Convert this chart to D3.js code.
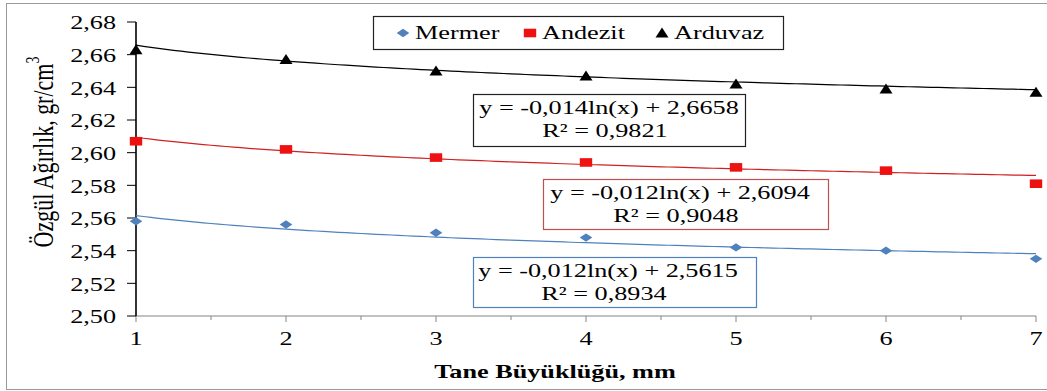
<!DOCTYPE html>
<html>
<head>
<meta charset="utf-8">
<script src="https://cdn.jsdelivr.net/npm/d3@7"></script>
<style>
  html, body { margin: 0; padding: 0; background: #fff; }
  svg { display: block; }
</style>
</head>
<body>
<svg id="chart" width="1047" height="391" font-family="'Liberation Serif', 'DejaVu Serif', serif"></svg>
<script>
// Grain size (mm) and specific gravity of three stone types
const sizes = [1, 2, 3, 4, 5, 6, 7];
const mermer  = [2.558, 2.556, 2.551, 2.548, 2.542, 2.540, 2.535];
const andezit = [2.607, 2.602, 2.597, 2.594, 2.591, 2.589, 2.581];
const arduvaz = [2.663, 2.657, 2.650, 2.647, 2.642, 2.639, 2.637];

// Logarithmic trend lines: y = a*ln(x) + b
const trendA = [-0.012, -0.012, -0.014];
const trendB = [2.5615, 2.6094, 2.6658];
const trendR2 = ["0,8934", "0,9048", "0,9821"];
const trendEq = ["y = -0,012ln(x) + 2,5615", "y = -0,012ln(x) + 2,6094", "y = -0,014ln(x) + 2,6658"];

const seriesNames = ["Mermer", "Andezit", "Arduvaz"];
const yTicks = [2.50, 2.52, 2.54, 2.56, 2.58, 2.60, 2.62, 2.64, 2.66, 2.68];
const xTicks = [1, 2, 3, 4, 5, 6, 7];

const series = [
  { name: seriesNames[0], values: mermer,  marker: "diamond",  fill: "#4F81BD", line: "#4F81BD", box: "#4F81BD" },
  { name: seriesNames[1], values: andezit, marker: "square",   fill: "#EE1111", line: "#D02020", box: "#C0504D" },
  { name: seriesNames[2], values: arduvaz, marker: "triangle", fill: "#000000", line: "#000000", box: "#222222" }
];

const FONT = "'Liberation Serif', 'DejaVu Serif', serif";
// Text is drawn horizontally widened
const SX = 1.38;
const svg = d3.select("#chart");

const x = d3.scaleLinear().domain([1, 7]).range([136, 1036]);
const y = d3.scaleLinear().domain([2.50, 2.68]).range([316, 22]);

function stretchedText(g, px, py, str, opts = {}) {
  return g.append("text")
    .attr("transform", `translate(${px},${py}) scale(${SX},1)`)
    .attr("text-anchor", opts.anchor || "middle")
    .attr("dominant-baseline", "central")
    .attr("font-family", FONT)
    .attr("font-size", opts.size || 19)
    .attr("font-weight", opts.weight || "normal")
    .attr("fill", "#000")
    .text(str);
}

// Outer chart frame
svg.append("rect")
  .attr("x", 6.5).attr("y", 3.5).attr("width", 1100).attr("height", 386)
  .attr("fill", "#fff").attr("stroke", "#9a9a9a").attr("stroke-width", 1);

// X axis
const xAxis = svg.append("g").attr("transform", `translate(0,${y(2.50)})`);
xAxis.append("line")
  .attr("x1", x(1)).attr("x2", x(7)).attr("y1", 0).attr("y2", 0)
  .attr("stroke", "#868686").attr("stroke-width", 1.2);
const minorX = d3.range(1.5, 7, 1);
xAxis.selectAll("line.minor").data(minorX).join("line")
  .attr("class", "minor")
  .attr("x1", d => x(d)).attr("x2", d => x(d)).attr("y1", 0).attr("y2", 4)
  .attr("stroke", "#868686");
xAxis.selectAll("line.major").data(xTicks).join("line")
  .attr("class", "major")
  .attr("x1", d => x(d)).attr("x2", d => x(d)).attr("y1", 0).attr("y2", 6)
  .attr("stroke", "#868686");
xTicks.forEach(t => stretchedText(svg, x(t), 339, String(t), { size: 19 }));

// Y axis
const yAxis = svg.append("g");
yAxis.append("line")
  .attr("x1", x(1)).attr("x2", x(1)).attr("y1", y(2.50)).attr("y2", y(2.68))
  .attr("stroke", "#000").attr("stroke-width", 1.6);
yAxis.selectAll("line.tick").data(yTicks).join("line")
  .attr("class", "tick")
  .attr("x1", x(1) - 9).attr("x2", x(1)).attr("y1", d => y(d)).attr("y2", d => y(d))
  .attr("stroke", "#000").attr("stroke-width", 1);
const fmt = d => d.toFixed(2).replace(".", ",");
yTicks.forEach(t => stretchedText(svg, 116, y(t) + 1, fmt(t), { anchor: "end", size: 19 }));

// Axis titles
const yTitle = svg.append("text")
  .attr("transform", `translate(43,152) scale(${SX},1) rotate(-90)`)
  .attr("text-anchor", "middle")
  .attr("dominant-baseline", "central")
  .attr("font-family", FONT)
  .attr("font-size", 22)
  .attr("fill", "#000");
yTitle.append("tspan").text("Özgül Ağırlık, gr/cm");
yTitle.append("tspan").attr("font-size", 14).attr("dy", -8).text("3");

stretchedText(svg, 555, 372, "Tane Büyüklüğü, mm", { size: 19, weight: "bold" });

// Trend lines
const samples = d3.range(1, 7.001, 0.05);
series.forEach((s, i) => {
  const line = d3.line()
    .x(d => x(d))
    .y(d => y(trendA[i] * Math.log(d) + trendB[i]));
  svg.append("path")
    .attr("d", line(samples))
    .attr("fill", "none")
    .attr("stroke", s.line)
    .attr("stroke-width", 1.2);
});

// Markers
function markerPath(type) {
  switch (type) {
    case "diamond":  return "M0,-4.2L6.3,0L0,4.2L-6.3,0Z";
    case "square":   return "M-6.2,-4.3H6.2V4.3H-6.2Z";
    case "triangle": return "M0,-5.5L6.5,4.5L-6.5,4.5Z";
  }
}
series.forEach(s => {
  svg.append("g").selectAll("path")
    .data(sizes.map((sz, j) => [sz, s.values[j]]))
    .join("path")
    .attr("transform", d => `translate(${x(d[0])},${y(d[1])})`)
    .attr("d", markerPath(s.marker))
    .attr("fill", s.fill);
});

// Equation labels
const boxes = [
  { x0: 473, x1: 756, y0: 257, y1: 307, cx: 608 },
  { x0: 543, x1: 828, y0: 179, y1: 229, cx: 680 },
  { x0: 473, x1: 745, y0: 94,  y1: 146, cx: 609 }
];
series.forEach((s, i) => {
  const b = boxes[i];
  svg.append("rect")
    .attr("x", b.x0 + 0.5).attr("y", b.y0 + 0.5)
    .attr("width", b.x1 - b.x0).attr("height", b.y1 - b.y0)
    .attr("fill", "#fff").attr("stroke", s.box).attr("stroke-width", 1.2);
  stretchedText(svg, b.cx, b.y0 + 14, trendEq[i], { size: 19 });
  stretchedText(svg, b.cx - 4, b.y0 + 37, "R² = " + trendR2[i], { size: 19 });
});

// Legend
const lg = svg.append("g");
lg.append("rect")
  .attr("x", 373.5).attr("y", 16.5).attr("width", 410).attr("height", 33)
  .attr("fill", "#fff").attr("stroke", "#222").attr("stroke-width", 1.2);
const legendPos = [403, 530, 662];
series.forEach((s, i) => {
  lg.append("path")
    .attr("transform", `translate(${legendPos[i]},33)`)
    .attr("d", markerPath(s.marker))
    .attr("fill", s.fill);
  stretchedText(lg, legendPos[i] + 12, 33, s.name, { anchor: "start", size: 19 });
});
</script>
</body>
</html>
